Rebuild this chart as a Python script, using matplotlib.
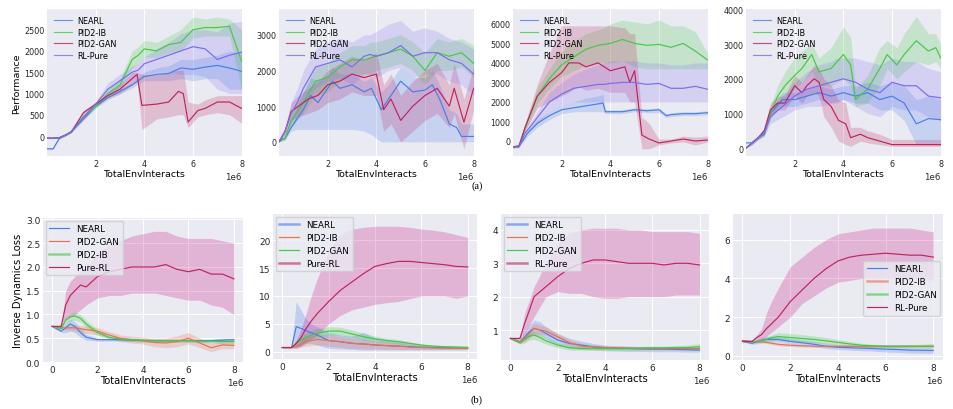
import matplotlib
matplotlib.use("Agg")
import matplotlib.pyplot as plt
import numpy as np

# ---------------- (a) performance, x in 1e6 env interacts ----------------
TX = [0, 0.25, 0.5, 0.75, 1, 1.5, 2, 2.5, 3, 3.5, 3.75, 4, 4.5, 5, 5.5, 6, 6.5, 7, 7.5, 8]

# panel a1
a1_nearl = [-300, -300, -60, 20, 100, 400, 700, 900, 1050, 1200, 1300, 1400, 1450, 1470, 1600, 1570, 1620, 1660, 1600, 1520]
a1_nearl_lo = [-320, -320, -80, 0, 80, 370, 660, 850, 990, 1130, 1220, 1300, 1300, 1300, 1350, 1300, 1350, 1350, 1100, 1100]
a1_nearl_hi = [-280, -280, -40, 40, 120, 430, 740, 950, 1110, 1280, 1380, 1500, 1600, 1650, 1800, 1800, 1850, 1900, 2000, 1950]
a1_ib = [-50, -50, -40, 20, 100, 450, 700, 1000, 1200, 1800, 1900, 2050, 2000, 2150, 2200, 2500, 2550, 2550, 2580, 1750]
a1_ib_lo = [-60, -60, -50, 0, 80, 400, 650, 930, 1100, 1600, 1700, 1850, 1850, 1950, 2000, 2300, 2350, 2350, 2350, 1100]
a1_ib_hi = [-40, -40, -30, 40, 120, 500, 760, 1080, 1350, 2000, 2100, 2250, 2200, 2350, 2500, 2800, 2750, 2800, 2750, 2500]
a1_gan_x = [0, 0.25, 0.5, 0.75, 1, 1.5, 2, 2.5, 3, 3.5, 3.7, 3.9, 4.5, 5, 5.4, 5.6, 5.8, 6.2, 6.5, 7, 7.5, 8]
a1_gan = [-50, -50, -40, 20, 100, 550, 750, 950, 1100, 1350, 1450, 720, 750, 800, 1050, 1000, 330, 600, 650, 800, 800, 650]
a1_gan_lo = [-60, -60, -50, 0, 80, 500, 700, 900, 1000, 1200, 1300, 150, 400, 450, 500, 500, 200, 450, 500, 550, 500, 300]
a1_gan_hi = [-40, -40, -30, 40, 120, 600, 800, 1000, 1200, 1500, 1500, 1450, 1450, 1500, 1550, 1550, 800, 750, 850, 950, 950, 950]
a1_rl = [-50, -50, -40, 20, 100, 450, 750, 1100, 1300, 1500, 1550, 1700, 1800, 1900, 2000, 2100, 2050, 1800, 1900, 1970]
a1_rl_lo = [-60, -60, -50, 0, 80, 400, 700, 950, 1150, 1300, 1350, 1450, 1500, 1500, 1450, 1450, 1400, 1100, 1000, 1000]
a1_rl_hi = [-40, -40, -30, 40, 120, 500, 800, 1250, 1450, 1650, 1700, 1850, 2050, 2200, 2400, 2500, 2500, 2450, 2650, 2700]

# panel a2
a2_nearl_x = [0, 0.25, 0.5, 0.75, 1, 1.3, 1.6, 2, 2.2, 2.5, 3, 3.5, 3.8, 4.2, 4.5, 5, 5.5, 6, 6.3, 6.6, 7, 7.3, 7.5, 8]
a2_nearl = [30, 100, 400, 650, 900, 1300, 1100, 1500, 1700, 1500, 1600, 1400, 1500, 900, 1200, 1700, 1400, 1450, 1600, 1200, 500, 400, 150, 150]
a2_nearl_lo = [0, 50, 300, 350, 350, 350, 350, 350, 350, 350, 350, 300, 200, 0, 0, 0, 0, 0, 0, 0, 0, 0, 0, 0]
a2_nearl_hi = [60, 200, 600, 1000, 1400, 1800, 1700, 1900, 2100, 1900, 1900, 1700, 1800, 1400, 1600, 2100, 1800, 1800, 2000, 1600, 900, 800, 500, 500]
a2_ib = [0, 100, 600, 850, 1100, 1700, 1800, 2100, 2300, 2300, 2350, 2400, 2500, 2600, 2400, 2000, 2500, 2400, 2500, 2200]
a2_ib_lo = [0, 50, 400, 600, 800, 1300, 1400, 1700, 1900, 1900, 1900, 2000, 2100, 2200, 2000, 1600, 2000, 2000, 2100, 1800]
a2_ib_hi = [0, 150, 800, 1100, 1400, 2100, 2200, 2500, 2700, 2700, 2800, 2800, 2900, 3000, 2800, 2500, 2900, 2800, 2900, 2700]
a2_gan_x = [0, 0.25, 0.5, 0.8, 1.2, 1.6, 2, 2.5, 3, 3.5, 4, 4.3, 4.6, 5, 5.5, 6, 6.5, 7, 7.2, 7.6, 8]
a2_gan = [0, 300, 850, 1000, 1200, 1300, 1600, 1700, 1900, 1800, 1900, 900, 1200, 600, 1000, 1300, 1500, 1000, 1500, 550, 1500]
a2_gan_lo = [0, 200, 600, 700, 800, 900, 1100, 1200, 1400, 1300, 1300, 300, 500, 0, 300, 600, 800, 400, 800, -200, 900]
a2_gan_hi = [0, 400, 1100, 1300, 1500, 1700, 2000, 2200, 2400, 2300, 2500, 1600, 1900, 1300, 1700, 2000, 2200, 1600, 2200, 1200, 2100]
a2_rl = [0, 300, 800, 1100, 1500, 2100, 2200, 2300, 2100, 2400, 2450, 2400, 2500, 2700, 2400, 2500, 2500, 2300, 2200, 1900]
a2_rl_lo = [0, 200, 500, 700, 1000, 1500, 1700, 1800, 1600, 1900, 1900, 1800, 2000, 2100, 1800, 1900, 1900, 1700, 1600, 1300]
a2_rl_hi = [0, 400, 1100, 1500, 2000, 2600, 2800, 2900, 2800, 3000, 3000, 3100, 3300, 3400, 3100, 3200, 3100, 2900, 2800, 2600]

# panel a3
a3_nearl_x = [0, 0.2, 0.4, 0.6, 1, 1.5, 2, 2.5, 3, 3.5, 3.7, 3.8, 4, 4.5, 5, 5.5, 6, 6.3, 6.5, 7, 7.5, 8]
a3_nearl = [-300, -300, 0, 400, 900, 1300, 1600, 1700, 1800, 1900, 1950, 1500, 1500, 1500, 1600, 1550, 1600, 1300, 1350, 1400, 1400, 1450]
a3_nearl_lo = [-350, -350, -100, 250, 700, 1100, 1400, 1500, 1500, 1500, 1500, 1400, 1400, 1400, 1500, 1450, 1450, 1200, 1250, 1300, 1300, 1350]
a3_nearl_hi = [-250, -250, 100, 550, 1100, 1500, 1800, 2000, 2200, 2300, 2400, 1600, 1600, 1600, 1700, 1650, 1700, 1400, 1450, 1500, 1500, 1550]
a3_ib = [-300, -250, 700, 1500, 2300, 3200, 3900, 4300, 4700, 4900, 4950, 5000, 5200, 5000, 4900, 4950, 4800, 5000, 4600, 4150]
a3_ib_lo = [-350, -300, 500, 1200, 1900, 2700, 3300, 3600, 3900, 4000, 4000, 4000, 4100, 3800, 3700, 3700, 3700, 3700, 3700, 3700]
a3_ib_hi = [-250, -200, 900, 1800, 2700, 3700, 4600, 5100, 5500, 5700, 5800, 6000, 6200, 6100, 6000, 6200, 5900, 5900, 5600, 4500]
a3_gan_x = [0, 0.25, 0.5, 0.75, 1, 1.5, 2, 2.3, 2.7, 3, 3.5, 4, 4.6, 4.8, 5.0, 5.3, 5.6, 6, 6.5, 7, 7.5, 8]
a3_gan = [-300, -250, 700, 1500, 2300, 3000, 3500, 4000, 4000, 3800, 4000, 3600, 3800, 3000, 3600, 300, 100, -100, 0, 100, 0, 50]
a3_gan_lo = [-350, -300, 500, 1100, 1700, 2000, 2300, 2500, 2800, 2600, 2700, 2500, 2500, 2000, 2000, -400, -400, -200, -100, -50, -200, -50]
a3_gan_hi = [-250, -200, 900, 1900, 2900, 4500, 5900, 5900, 5900, 5900, 5900, 5900, 5800, 5500, 5500, 1200, 900, 100, 100, 250, 200, 250]
a3_rl = [-300, -300, 400, 800, 1200, 2000, 2400, 2700, 2800, 2900, 2900, 2950, 3000, 3000, 2900, 2950, 2700, 2700, 2800, 2650]
a3_rl_lo = [-350, -350, 300, 600, 900, 1500, 1800, 2000, 2000, 2000, 2000, 2000, 2000, 2000, 2000, 2000, 2000, 2000, 2000, 2000]
a3_rl_hi = [-250, -250, 500, 1000, 1500, 2500, 3000, 3400, 3700, 3900, 4000, 4100, 4100, 4100, 4000, 4000, 3900, 3900, 4000, 4000]

# panel a4
a4_nearl = [150, 150, 300, 400, 1000, 1400, 1400, 1500, 1600, 1500, 1550, 1600, 1500, 1600, 1400, 1500, 1300, 700, 850, 820]
a4_nearl_lo = [150, 150, 250, 350, 900, 1200, 1200, 1300, 1400, 1300, 1350, 1400, 1300, 1300, 1100, 1100, 800, 100, 100, 100]
a4_nearl_hi = [150, 150, 350, 450, 1100, 1600, 1600, 1700, 1800, 1700, 1750, 1800, 1800, 1900, 1800, 1900, 1800, 1400, 1500, 1400]
a4_ib_x = [0, 0.25, 0.5, 0.75, 1, 1.3, 1.6, 2, 2.3, 2.7, 3, 3.5, 4, 4.3, 4.5, 5, 5.5, 5.8, 6.2, 6.5, 7, 7.5, 7.8, 8]
a4_ib = [0, 150, 300, 450, 1000, 1500, 1800, 2100, 2300, 2700, 2200, 2300, 2700, 2400, 1400, 1700, 2300, 2700, 2400, 2700, 3100, 2800, 2900, 2600]
a4_ib_lo = [0, 100, 250, 350, 800, 1200, 1400, 1700, 1900, 2200, 1800, 1800, 2000, 1800, 1200, 1300, 1800, 2300, 2000, 2200, 2500, 2400, 2500, 2300]
a4_ib_hi = [0, 200, 350, 550, 1200, 1800, 2200, 2600, 2800, 3000, 2600, 2900, 3500, 3200, 1700, 2100, 2900, 3100, 2900, 3300, 3800, 3300, 3300, 3000]
a4_gan_x = [0, 0.25, 0.5, 0.75, 1, 1.3, 1.6, 2, 2.3, 2.5, 2.8, 3, 3.2, 3.5, 3.8, 4.1, 4.3, 4.7, 5, 5.5, 6, 7, 8]
a4_gan = [0, 150, 300, 500, 1100, 1300, 1300, 1800, 1600, 1800, 2000, 1900, 1400, 1200, 800, 700, 300, 400, 300, 200, 100, 100, 100]
a4_gan_lo = [0, 100, 250, 400, 900, 1100, 1100, 1500, 1300, 1500, 1600, 1500, 900, 600, 200, 100, 50, 200, 150, 100, 50, 50, 50]
a4_gan_hi = [0, 200, 350, 600, 1300, 1500, 1500, 2100, 1900, 2100, 2400, 2300, 2000, 1800, 1400, 1300, 600, 600, 500, 400, 250, 250, 250]
a4_rl = [0, 150, 300, 450, 900, 1200, 1500, 1700, 1800, 1900, 1950, 2000, 1900, 1700, 1600, 1900, 1800, 1800, 1500, 1450]
a4_rl_lo = [0, 100, 250, 350, 700, 900, 1100, 1200, 1200, 1300, 1300, 1400, 1200, 1000, 900, 1200, 1100, 1100, 900, 800]
a4_rl_hi = [0, 200, 350, 550, 1100, 1500, 1900, 2200, 2400, 2500, 2600, 2600, 2600, 2500, 2400, 2600, 2500, 2500, 2300, 2200]

# ---------------- (b) inverse dynamics loss ----------------
BX = [0, 0.4, 0.6, 0.8, 1.0, 1.25, 1.5, 2, 2.5, 3, 3.5, 4, 4.5, 5, 5.5, 6, 6.5, 7, 7.5, 8]

# panel b1
b1_nearl = [0.75, 0.65, 0.72, 0.8, 0.75, 0.62, 0.52, 0.47, 0.47, 0.47, 0.46, 0.45, 0.45, 0.45, 0.45, 0.45, 0.45, 0.45, 0.46, 0.47]
b1_nearl_lo = [0.74, 0.62, 0.62, 0.65, 0.62, 0.52, 0.46, 0.44, 0.44, 0.44, 0.43, 0.42, 0.42, 0.42, 0.42, 0.42, 0.42, 0.42, 0.43, 0.44]
b1_nearl_hi = [0.76, 0.68, 0.82, 0.9, 0.85, 0.72, 0.58, 0.5, 0.5, 0.5, 0.49, 0.48, 0.48, 0.48, 0.48, 0.48, 0.48, 0.48, 0.49, 0.5]
b1_gan = [0.75, 0.72, 0.72, 0.72, 0.72, 0.7, 0.68, 0.65, 0.57, 0.5, 0.47, 0.45, 0.41, 0.4, 0.43, 0.5, 0.4, 0.3, 0.36, 0.35]
b1_gan_lo = [0.74, 0.7, 0.68, 0.67, 0.66, 0.63, 0.6, 0.57, 0.5, 0.43, 0.4, 0.38, 0.32, 0.3, 0.32, 0.38, 0.3, 0.22, 0.28, 0.28]
b1_gan_hi = [0.76, 0.74, 0.76, 0.77, 0.78, 0.77, 0.76, 0.73, 0.64, 0.57, 0.54, 0.52, 0.5, 0.5, 0.55, 0.62, 0.5, 0.4, 0.45, 0.43]
b1_ib = [0.75, 0.7, 0.88, 0.95, 0.97, 0.92, 0.8, 0.62, 0.52, 0.48, 0.47, 0.46, 0.45, 0.45, 0.45, 0.45, 0.44, 0.44, 0.43, 0.43]
b1_ib_lo = [0.74, 0.68, 0.82, 0.87, 0.88, 0.84, 0.72, 0.57, 0.49, 0.45, 0.44, 0.43, 0.42, 0.42, 0.42, 0.42, 0.41, 0.41, 0.38, 0.38]
b1_ib_hi = [0.76, 0.72, 0.94, 1.02, 1.05, 1.0, 0.88, 0.67, 0.55, 0.51, 0.5, 0.49, 0.48, 0.48, 0.48, 0.48, 0.47, 0.47, 0.5, 0.5]
b1_rl = [0.75, 0.75, 1.2, 1.4, 1.5, 1.62, 1.58, 1.8, 1.9, 1.95, 2.0, 2.0, 2.0, 2.05, 1.95, 1.9, 1.95, 1.85, 1.85, 1.75]
b1_rl_lo = [0.74, 0.74, 0.9, 0.95, 1.0, 1.1, 1.2, 1.35, 1.4, 1.4, 1.45, 1.45, 1.45, 1.4, 1.35, 1.3, 1.3, 1.2, 1.15, 1.0]
b1_rl_hi = [0.76, 0.76, 1.5, 1.7, 1.8, 1.9, 2.0, 2.3, 2.45, 2.55, 2.65, 2.7, 2.75, 2.75, 2.65, 2.6, 2.6, 2.6, 2.55, 2.5]

# panel b2
b2_nearl = [0.75, 0.75, 4.5, 4.2, 3.8, 3.4, 3.0, 2.0, 1.8, 1.5, 1.4, 1.2, 1.1, 1.0, 0.9, 0.8, 0.75, 0.7, 0.65, 0.6]
b2_nearl_lo = [0.7, 0.7, 0.5, 1.0, 1.5, 1.5, 1.2, 0.6, 0.5, 0.4, 0.3, 0.3, 0.3, 0.3, 0.3, 0.3, 0.3, 0.3, 0.3, 0.3]
b2_nearl_hi = [0.8, 0.8, 9.0, 7.5, 6.0, 5.0, 4.5, 3.5, 3.0, 2.8, 3.5, 2.5, 2.2, 2.0, 1.6, 1.3, 1.2, 1.1, 1.0, 0.9]
b2_ib = [0.75, 0.75, 1.0, 1.3, 1.8, 2.0, 2.2, 2.0, 1.8, 1.5, 1.4, 1.2, 1.1, 1.0, 0.85, 0.75, 0.7, 0.65, 0.6, 0.6]
b2_ib_lo = [0.7, 0.7, 0.7, 0.8, 1.0, 1.1, 1.2, 1.0, 0.8, 0.6, 0.5, 0.5, 0.4, 0.4, 0.4, 0.4, 0.4, 0.4, 0.4, 0.4]
b2_ib_hi = [0.8, 0.8, 1.3, 1.8, 2.6, 2.9, 3.2, 3.0, 2.8, 2.4, 2.2, 1.9, 1.8, 1.6, 1.3, 1.1, 1.0, 0.9, 0.8, 0.8]
b2_gan = [0.75, 0.75, 1.5, 2.0, 2.5, 3.0, 3.3, 3.7, 3.7, 3.2, 2.7, 2.3, 2.0, 1.8, 1.5, 1.2, 1.0, 0.9, 0.85, 0.8]
b2_gan_lo = [0.7, 0.7, 1.0, 1.3, 1.7, 2.2, 2.5, 2.9, 2.9, 2.5, 2.1, 1.8, 1.6, 1.4, 1.2, 1.0, 0.8, 0.7, 0.7, 0.65]
b2_gan_hi = [0.8, 0.8, 2.0, 2.7, 3.3, 3.8, 4.1, 4.5, 4.4, 3.9, 3.3, 2.8, 2.4, 2.2, 1.8, 1.4, 1.2, 1.1, 1.0, 0.95]
b2_rl = [0.75, 0.75, 1.5, 2.5, 4.0, 5.5, 6.8, 9.0, 11.0, 12.5, 14.0, 15.3, 15.8, 16.2, 16.2, 16.0, 15.8, 15.6, 15.3, 15.2]
b2_rl_lo = [0.7, 0.7, 0.8, 1.0, 1.5, 2.3, 3.0, 5.0, 6.5, 7.5, 8.0, 8.5, 8.8, 9.0, 9.5, 10.0, 10.0, 10.0, 9.6, 10.0]
b2_rl_hi = [0.8, 0.8, 2.0, 4.0, 6.5, 10.0, 13.0, 18.0, 21.0, 22.0, 22.3, 22.5, 22.5, 22.5, 22.3, 22.0, 21.8, 21.5, 21.0, 20.5]

# panel b3
b3_nearl = [0.75, 0.65, 0.8, 0.95, 1.05, 1.0, 0.9, 0.7, 0.6, 0.55, 0.5, 0.47, 0.46, 0.45, 0.44, 0.43, 0.43, 0.42, 0.41, 0.4]
b3_nearl_lo = [0.73, 0.6, 0.7, 0.8, 0.85, 0.85, 0.75, 0.55, 0.45, 0.42, 0.4, 0.38, 0.37, 0.36, 0.36, 0.35, 0.35, 0.35, 0.34, 0.34]
b3_nearl_hi = [0.77, 0.7, 0.95, 1.15, 1.3, 1.25, 1.1, 0.9, 0.75, 0.67, 0.6, 0.55, 0.53, 0.52, 0.51, 0.5, 0.5, 0.49, 0.48, 0.47]
b3_ib = [0.75, 0.65, 0.75, 0.9, 1.05, 1.0, 0.97, 0.8, 0.62, 0.52, 0.5, 0.48, 0.47, 0.46, 0.45, 0.45, 0.45, 0.45, 0.45, 0.45]
b3_ib_lo = [0.73, 0.6, 0.65, 0.75, 0.9, 0.88, 0.85, 0.7, 0.52, 0.45, 0.44, 0.43, 0.42, 0.41, 0.41, 0.41, 0.41, 0.41, 0.41, 0.41]
b3_ib_hi = [0.77, 0.7, 0.85, 1.05, 1.2, 1.15, 1.1, 0.9, 0.72, 0.6, 0.56, 0.53, 0.52, 0.51, 0.5, 0.5, 0.5, 0.5, 0.5, 0.5]
b3_gan = [0.75, 0.62, 0.72, 0.82, 0.85, 0.78, 0.68, 0.55, 0.47, 0.45, 0.45, 0.45, 0.45, 0.45, 0.46, 0.47, 0.47, 0.48, 0.48, 0.5]
b3_gan_lo = [0.73, 0.58, 0.62, 0.7, 0.72, 0.66, 0.58, 0.47, 0.4, 0.4, 0.4, 0.4, 0.4, 0.4, 0.41, 0.42, 0.42, 0.43, 0.42, 0.44]
b3_gan_hi = [0.77, 0.66, 0.8, 0.92, 0.95, 0.88, 0.78, 0.63, 0.53, 0.5, 0.5, 0.5, 0.5, 0.5, 0.51, 0.52, 0.52, 0.53, 0.55, 0.6]
b3_rl = [0.75, 0.75, 1.2, 1.6, 2.0, 2.15, 2.3, 2.6, 2.85, 3.0, 3.1, 3.1, 3.05, 3.0, 3.0, 3.0, 2.95, 3.0, 3.0, 2.95]
b3_rl_lo = [0.73, 0.72, 0.9, 1.15, 1.4, 1.7, 2.0, 2.15, 2.1, 2.1, 2.0, 1.95, 1.95, 2.0, 2.0, 2.0, 2.0, 2.05, 2.05, 2.05]
b3_rl_hi = [0.77, 0.78, 1.5, 1.9, 2.3, 2.65, 3.0, 3.6, 3.9, 4.0, 4.05, 4.05, 4.05, 4.0, 4.0, 3.95, 3.95, 3.95, 3.95, 3.9]

# panel b4
b4_nearl = [0.75, 0.65, 0.72, 0.8, 0.85, 0.85, 0.85, 0.75, 0.68, 0.6, 0.5, 0.45, 0.42, 0.4, 0.38, 0.35, 0.33, 0.3, 0.29, 0.28]
b4_nearl_lo = [0.73, 0.6, 0.62, 0.68, 0.72, 0.72, 0.72, 0.62, 0.55, 0.47, 0.38, 0.33, 0.3, 0.27, 0.25, 0.2, 0.18, 0.15, 0.14, 0.13]
b4_nearl_hi = [0.77, 0.7, 0.85, 0.95, 1.0, 1.0, 1.0, 0.9, 0.82, 0.75, 0.65, 0.58, 0.55, 0.53, 0.5, 0.5, 0.48, 0.45, 0.44, 0.43]
b4_ib = [0.8, 0.75, 0.74, 0.72, 0.7, 0.65, 0.6, 0.55, 0.52, 0.5, 0.5, 0.5, 0.5, 0.5, 0.5, 0.5, 0.5, 0.5, 0.5, 0.5]
b4_ib_lo = [0.78, 0.72, 0.7, 0.67, 0.64, 0.58, 0.53, 0.48, 0.46, 0.45, 0.45, 0.45, 0.45, 0.45, 0.45, 0.45, 0.45, 0.45, 0.45, 0.45]
b4_ib_hi = [0.82, 0.78, 0.78, 0.77, 0.76, 0.72, 0.67, 0.62, 0.58, 0.55, 0.55, 0.55, 0.55, 0.55, 0.55, 0.55, 0.55, 0.55, 0.55, 0.55]
b4_gan = [0.75, 0.72, 0.75, 0.8, 0.85, 0.95, 1.0, 0.95, 0.9, 0.85, 0.78, 0.7, 0.62, 0.55, 0.52, 0.5, 0.5, 0.5, 0.5, 0.5]
b4_gan_lo = [0.73, 0.68, 0.68, 0.7, 0.72, 0.8, 0.82, 0.75, 0.72, 0.68, 0.62, 0.56, 0.5, 0.46, 0.44, 0.43, 0.43, 0.43, 0.43, 0.43]
b4_gan_hi = [0.77, 0.76, 0.82, 0.9, 0.98, 1.1, 1.2, 1.15, 1.1, 1.03, 0.95, 0.85, 0.75, 0.65, 0.6, 0.58, 0.58, 0.58, 0.6, 0.65]
b4_rl = [0.75, 0.75, 0.95, 1.1, 1.4, 1.7, 2.0, 2.8, 3.4, 4.0, 4.5, 4.9, 5.1, 5.2, 5.25, 5.3, 5.25, 5.2, 5.2, 5.1]
b4_rl_lo = [0.73, 0.72, 0.8, 0.85, 1.0, 1.25, 1.5, 2.0, 2.7, 3.1, 3.5, 3.8, 3.9, 4.0, 4.0, 4.0, 4.0, 4.0, 4.0, 3.9]
b4_rl_hi = [0.77, 0.78, 1.1, 1.4, 2.2, 2.9, 3.5, 4.6, 5.1, 5.6, 6.0, 6.3, 6.4, 6.5, 6.6, 6.6, 6.6, 6.6, 6.5, 6.4]

# colours
C_NEARL = '#4a7de8'
C_IB = '#45c945'
C_GAN = '#c0235e'
C_RL = '#7a6bf0'
C_ORANGE = '#e8714f'
C_PINK = '#c71585'
BG = '#eaeaf2'

plt.rcParams['font.family'] = 'DejaVu Sans'
fig = plt.figure(figsize=(9.54, 4.10), dpi=100)


def band(ax, x, y, lo, hi, color, label, fill=None, alpha=0.22):
    x = np.array(x) * 1e6
    ax.fill_between(x, lo, hi, color=fill or color, alpha=alpha, lw=0)
    ax.plot(x, y, color=color, lw=0.85, label=label)


def style(ax, top):
    ax.set_facecolor(BG)
    for s in ax.spines.values():
        s.set_visible(False)
    tick = 5.8 if top else 6.5
    lab = 6.8 if top else 7.2
    ax.tick_params(length=0, pad=2, labelsize=tick, colors='#262626')
    ax.xaxis.get_offset_text().set_fontsize(6.2)
    ax.set_xlabel('TotalEnvInteracts', fontsize=lab, labelpad=1)
    if top:
        ax.grid(True, axis='x', color='white', lw=0.7)
        ax.set_xlim(0, 8e6)
        ax.set_xticks([2e6, 4e6, 6e6, 8e6])
    else:
        ax.grid(True, color='white', lw=0.7)
        ax.set_xlim(-0.4e6, 8.4e6)
        ax.set_xticks([0, 2e6, 4e6, 6e6, 8e6])
    ax.set_axisbelow(True)


top_pos = [(0.0493, 0.617, 0.204, 0.359), (0.2925, 0.617, 0.204, 0.359),
           (0.5377, 0.617, 0.204, 0.359), (0.782, 0.617, 0.204, 0.359)]
top_data = [
    (TX, a1_nearl, a1_nearl_lo, a1_nearl_hi, TX, a1_ib, a1_ib_lo, a1_ib_hi,
     a1_gan_x, a1_gan, a1_gan_lo, a1_gan_hi, TX, a1_rl, a1_rl_lo, a1_rl_hi),
    (a2_nearl_x, a2_nearl, a2_nearl_lo, a2_nearl_hi, TX, a2_ib, a2_ib_lo, a2_ib_hi,
     a2_gan_x, a2_gan, a2_gan_lo, a2_gan_hi, TX, a2_rl, a2_rl_lo, a2_rl_hi),
    (a3_nearl_x, a3_nearl, a3_nearl_lo, a3_nearl_hi, TX, a3_ib, a3_ib_lo, a3_ib_hi,
     a3_gan_x, a3_gan, a3_gan_lo, a3_gan_hi, TX, a3_rl, a3_rl_lo, a3_rl_hi),
    (TX, a4_nearl, a4_nearl_lo, a4_nearl_hi, a4_ib_x, a4_ib, a4_ib_lo, a4_ib_hi,
     a4_gan_x, a4_gan, a4_gan_lo, a4_gan_hi, TX, a4_rl, a4_rl_lo, a4_rl_hi),
]
top_ylim = [(-470, 2990), (-400, 3730), (-770, 6770), (-230, 4020)]
top_yticks = [[0, 500, 1000, 1500, 2000, 2500], [0, 1000, 2000, 3000],
              [0, 1000, 2000, 3000, 4000, 5000, 6000], [0, 1000, 2000, 3000, 4000]]

for i in range(4):
    ax = fig.add_axes(top_pos[i])
    d = top_data[i]
    band(ax, d[0], d[1], d[2], d[3], C_NEARL, 'NEARL')
    band(ax, d[4], d[5], d[6], d[7], C_IB, 'PID2-IB')
    band(ax, d[8], d[9], d[10], d[11], C_GAN, 'PID2-GAN')
    band(ax, d[12], d[13], d[14], d[15], C_RL, 'RL-Pure', alpha=0.2)
    style(ax, True)
    ax.set_ylim(*top_ylim[i])
    ax.set_yticks(top_yticks[i])
    leg = ax.legend(loc='upper left', fontsize=5.9, frameon=False, handlelength=2.1,
                    handletextpad=0.7, labelspacing=0.3, borderaxespad=0.5)
    for h in leg.get_lines():
        h.set_alpha(0.8)
    if i == 0:
        ax.set_ylabel('Performance', fontsize=6.8, labelpad=2)

bot_pos = [(0.0451, 0.1146, 0.2096, 0.3512), (0.2862, 0.122, 0.2138, 0.3537),
           (0.5252, 0.120, 0.218, 0.3559), (0.7683, 0.120, 0.220, 0.3559)]
bot_ylim = [(0, 3.03), (-1.3, 24.7), (0.11, 4.48), (-0.2, 7.33)]
bot_yticks = [[0, 0.5, 1.0, 1.5, 2.0, 2.5, 3.0], [0, 5, 10, 15, 20], [1, 2, 3, 4], [0, 2, 4, 6]]

# (series values, lo, hi, colour, label)
bot_series = [
    [(b1_nearl, b1_nearl_lo, b1_nearl_hi, C_NEARL, 'NEARL'),
     (b1_gan, b1_gan_lo, b1_gan_hi, C_ORANGE, 'PID2-GAN'),
     (b1_ib, b1_ib_lo, b1_ib_hi, C_IB, 'PID2-IB'),
     (b1_rl, b1_rl_lo, b1_rl_hi, C_GAN, 'Pure-RL')],
    [(b2_nearl, b2_nearl_lo, b2_nearl_hi, C_NEARL, 'NEARL'),
     (b2_ib, b2_ib_lo, b2_ib_hi, C_ORANGE, 'PID2-IB'),
     (b2_gan, b2_gan_lo, b2_gan_hi, C_IB, 'PID2-GAN'),
     (b2_rl, b2_rl_lo, b2_rl_hi, C_GAN, 'Pure-RL')],
    [(b3_nearl, b3_nearl_lo, b3_nearl_hi, C_NEARL, 'NEARL'),
     (b3_ib, b3_ib_lo, b3_ib_hi, C_ORANGE, 'PID2-IB'),
     (b3_gan, b3_gan_lo, b3_gan_hi, C_IB, 'PID2-GAN'),
     (b3_rl, b3_rl_lo, b3_rl_hi, C_GAN, 'RL-Pure')],
    [(b4_nearl, b4_nearl_lo, b4_nearl_hi, C_NEARL, 'NEARL'),
     (b4_ib, b4_ib_lo, b4_ib_hi, C_ORANGE, 'PID2-IB'),
     (b4_gan, b4_gan_lo, b4_gan_hi, C_IB, 'PID2-GAN'),
     (b4_rl, b4_rl_lo, b4_rl_hi, C_GAN, 'RL-Pure')],
]
thick_handles = [[2], [0, 3], [0, 3], [1, 2]]

for i in range(4):
    ax = fig.add_axes(bot_pos[i])
    for (y, lo, hi, c, lab) in bot_series[i]:
        if c == C_GAN:
            band(ax, BX, y, lo, hi, c, lab, fill=C_PINK, alpha=0.25)
        else:
            band(ax, BX, y, lo, hi, c, lab, alpha=0.25)
    style(ax, False)
    ax.set_ylim(*bot_ylim[i])
    ax.set_yticks(bot_yticks[i])
    if i == 0:
        ax.set_yticklabels(['0.0', '0.5', '1.0', '1.5', '2.0', '2.5', '3.0'])
        ax.set_ylabel('Inverse Dynamics Loss', fontsize=7.2, labelpad=2)
    loc = 'center right' if i == 3 else 'upper left'
    leg = ax.legend(loc=loc, fontsize=6.3, frameon=True, facecolor=BG, edgecolor='#cccccc',
                    framealpha=0.8, handlelength=2.3, labelspacing=0.45, borderaxespad=0.3,
                    bbox_to_anchor=(1.0, 0.49) if i == 3 else None)
    for k, h in enumerate(leg.get_lines()):
        if k in thick_handles[i]:
            h.set_linewidth(1.8)
            h.set_alpha(0.6)

fig.text(0.5, 0.546, '(a)', ha='center', va='center', fontsize=7.5, family='Liberation Serif')
fig.text(0.5, 0.024, '(b)', ha='center', va='center', fontsize=7.5, family='Liberation Serif')

fig.savefig('out.png', dpi=100)
